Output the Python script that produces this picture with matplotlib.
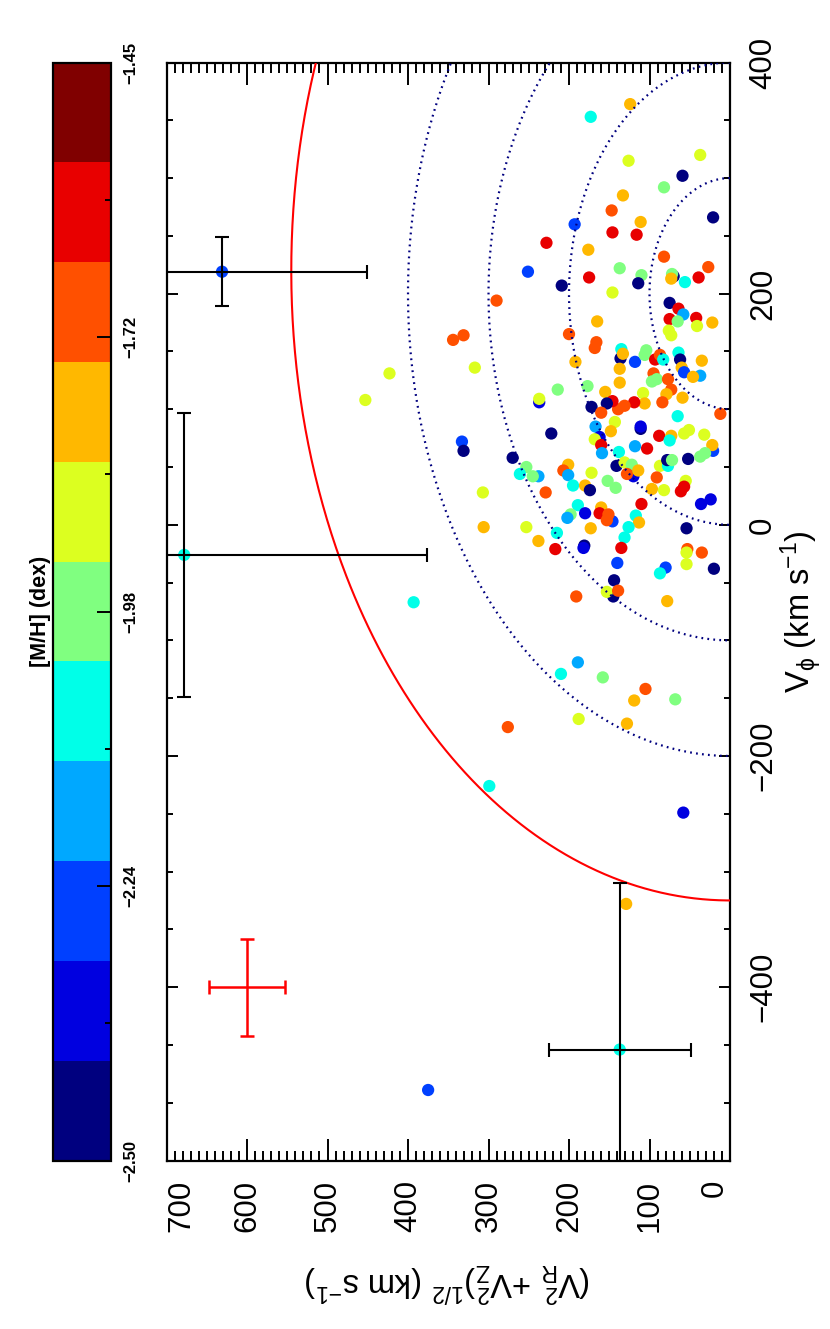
import numpy as np
import matplotlib
matplotlib.use("Agg")
import matplotlib.pyplot as plt
from matplotlib.colors import ListedColormap, BoundaryNorm
from matplotlib.ticker import MultipleLocator, FixedLocator

plt.rcParams['font.family'] = ['Liberation Sans', 'DejaVu Sans']
plt.rcParams['mathtext.fontset'] = 'custom'
plt.rcParams['mathtext.rm'] = 'Liberation Sans'
plt.rcParams['mathtext.it'] = 'Liberation Sans'
plt.rcParams['mathtext.bf'] = 'Liberation Sans:bold'

# [M/H] colour bins (11 discrete colours)
mh_edges = np.linspace(-2.50, -1.45, 12)
mh_colors = ['#00007f', '#0000e0', '#0040ff', '#00a8ff', '#00ffe8', '#80ff80',
             '#dcff20', '#ffb800', '#ff5000', '#e80000', '#800000']
cbar_ticks = [-2.50, -2.2375, -1.975, -1.7125, -1.45]
cbar_minor = [-2.36875, -2.10625, -1.84375, -1.58125]
cbar_ticklabels = ['\u22122.50', '\u22122.24', '\u22121.98', '\u22121.72', '\u22121.45']

# stars: V_phi, sqrt(V_R^2+V_Z^2), [M/H]
v_phi = [364, 353, 315, 320, 302, 292, 285, 272, 266, 262,
         260, 253, 251, 244, 238, 232, 223, 219, 222, 216,
         214, 215, 217, 213, 210, 214, 207, 209, 201, 194,
         192, 187, 182, 178, 176, 179, 172, 175, 176, 168,
         164, 165,
         158, 153, 152, 144, 148, 141, 151, 147, 143, 147,
         143, 149, 143, 136, 132, 129, 128, 142, 141, 135,
         123, 131, 124, 126, 126, 117, 113, 110, 106, 96,
         120, 117, 106, 109, 115, 114, 105, 106, 103, 100,
         107, 105, 102, 97, 89, 81, 85, 83, 85, 94,
         79, 77, 77, 73, 79, 82, 78, 64, 69, 76,
         74, 69, 62, 68, 66, 63, 58, 51, 54, 52,
         42, 44, 47, 51, 51, 56, 56, 57, 59, 62,
         50, 44, 42, 42, 52, 47, 43, 45, 38, 32,
         34, 34, 30, 41, 31, 30, 38, 33, 29, 28,
         28, 18, 17, 10, 9, 6, 15, 10, 3, 9,
         4, 8, 2, -2, -11, -3, -2, -2, -14, -7,
         -21, -18, -20, -20, -33, 18, 22, -3, -21, -24,
         -24, -34, -37, -42, -38, -48, -62, -58, -57, -62, -66,
         160, 164, 136, 131, 108, 72, 64, -67, -119, -129,
         -132, -142, -152, -151, -168, -172, -175, -226, -249, -328,
         -489]
v_perp = [124, 173, 126, 37, 59, 82, 133, 147, 21, 111,
          193, 146, 116, 228, 176, 82, 27, 251, 137, 110,
          175, 70, 72, 73, 56, 39, 209, 114, 146, 290,
          75, 64, 58, 75, 65, 42, 41, 22, 165, 76,
          73, 200,
          166, 168, 135, 136, 133, 118, 104, 106, 93, 87,
          83, 64, 62, 60, 57, 37, 46, 35, 192, 137,
          137, 95, 97, 91, 77, 73, 79, 59, 84, 12,
          177, 214, 237, 237, 155, 108, 106, 119, 131, 139,
          146, 153, 172, 160, 143, 148, 167, 111, 111, 65,
          222, 88, 73, 75, 57, 51, 32, 21, 22, 162,
          168, 160, 159, 118, 103, 138, 270, 141, 131, 122,
          120, 128, 114, 87, 77, 78, 72, 52, 37, 31,
          253, 261, 238, 245, 201, 207, 201, 172, 152, 142,
          195, 180, 174, 91, 97, 82, 55, 57, 61, 307,
          229, 110, 189, 180, 198, 202, 160, 162, 146, 151,
          153, 117, 113, 126, 131, 173, 253, 306, 238, 215,
          217, 181, 182, 135, 140, 36, 24, 54, 53, 54,
          35, 54, 80, 87, 20, 144, 145, 153, 139, 191, 78,
          344, 331, 317, 423, 453, 333, 331, 393, 189, 210,
          158, 105, 119, 68, 188, 128, 276, 299, 58, 129,
          375]
m_h = [-1.78, -2.07, -1.88, -1.88, -2.45, -1.97, -1.78, -1.69, -2.45, -1.78,
       -2.26, -1.59, -1.59, -1.59, -1.78, -1.69, -1.69, -2.26, -1.97, -1.97,
       -1.59, -2.45, -1.97, -1.78, -2.07, -1.59, -2.45, -2.45, -1.88, -1.69,
       -2.45, -1.59, -2.17, -1.59, -1.97, -1.59, -1.88, -1.78, -1.78, -1.88,
       -1.88, -1.69,
       -1.69, -1.69, -2.07, -2.45, -1.78, -2.26, -1.97, -1.97, -1.59, -1.69,
       -2.07, -2.07, -2.45, -1.78, -2.26, -2.17, -1.78, -1.78, -1.78, -1.78,
       -1.78, -1.69, -1.97, -1.97, -1.69, -1.69, -1.78, -1.78, -1.69, -1.69,
       -1.97, -1.97, -2.36, -1.88, -1.78, -1.88, -1.78, -1.59, -1.69, -1.69,
       -1.59, -2.45, -2.45, -1.69, -1.88, -1.78, -2.17, -2.45, -2.36, -2.07,
       -2.45, -1.59, -1.78, -2.07, -1.88, -1.88, -1.88, -2.26, -1.78, -2.36,
       -1.88, -1.59, -2.17, -2.17, -1.59, -2.07, -2.45, -2.45, -1.88, -1.97,
       -2.36, -1.69, -1.78, -1.88, -2.07, -2.45, -1.97, -2.45, -1.97, -1.97,
       -1.97, -2.07, -2.17, -1.97, -1.78, -1.69, -2.17, -1.88, -1.97, -1.97,
       -2.07, -1.78, -2.45, -1.69, -1.78, -1.88, -1.88, -1.59, -1.59, -1.88,
       -1.69, -1.59, -2.07, -2.36, -1.97, -2.17, -1.78, -1.59, -2.26, -1.69,
       -1.69, -2.07, -1.78, -2.07, -2.07, -1.78, -1.88, -1.78, -1.78, -2.07,
       -1.59, -2.45, -2.36, -1.59, -2.26, -2.36, -2.36, -2.45, -1.69, -1.88,
       -1.69, -1.88, -2.26, -2.07, -2.45, -2.45, -2.45, -1.88, -1.69, -1.69, -1.78,
       -1.69, -1.69, -1.88, -1.88, -1.88, -2.26, -2.45, -2.07, -2.17, -2.07,
       -1.97, -1.69, -1.78, -1.97, -1.88, -1.78, -1.69, -2.07, -2.36, -1.78,
       -2.26]

# stars with individual error bars
eb_phi = [219, -26, -454]
eb_perp = [631, 678, 137]
eb_mh = [-2.26, -2.07, -2.07]
eb_phi_err = [30, 123, 144]
eb_perp_err = [180, 302, 88]

# typical error (red cross)
typ_phi, typ_perp = -400, 600
typ_phi_err, typ_perp_err = 42, 47

# halo boundary and constant-velocity circles
halo_center, halo_radius = 220, 545
disc_center = 200
disc_radii = [100, 200, 300, 400]

cmap = ListedColormap(mh_colors)
norm = BoundaryNorm(mh_edges, cmap.N)

fig = plt.figure(figsize=(8.3, 13.29), dpi=100)
ax = fig.add_axes([166.5/830, 1 - 1160.5/1329, (730 - 166.5)/830, (1160.5 - 62.5)/1329])
cax = fig.add_axes([53/830, 1 - 1160.5/1329, 58/830, (1160.5 - 62.5)/1329])

sc = ax.scatter(v_perp, v_phi, c=m_h, cmap=cmap, norm=norm, s=78, linewidths=0, zorder=3)
ax.scatter(eb_perp, eb_phi, c=eb_mh, cmap=cmap, norm=norm, s=78, linewidths=0, zorder=3)

t = np.linspace(0, np.pi, 500)
ax.plot(halo_radius*np.sin(t), halo_center + halo_radius*np.cos(t), color='red', lw=1.5, zorder=4)
for r in disc_radii:
    ax.plot(r*np.sin(t), disc_center + r*np.cos(t), color='#00007f', lw=1.6,
            ls=(0, (0.8, 1.9)), zorder=4)

ax.errorbar(eb_perp, eb_phi, xerr=eb_perp_err, yerr=eb_phi_err, fmt='none', ecolor='black',
            elinewidth=1.5, capsize=4.7, capthick=1.5, zorder=5)
ax.errorbar([typ_perp], [typ_phi], xerr=[typ_perp_err], yerr=[typ_phi_err], fmt='none',
            ecolor='red', elinewidth=1.8, capsize=4.7, capthick=1.8, zorder=5)

ax.set_xlim(700, 0)
ax.set_ylim(-550, 400)
ax.xaxis.set_major_locator(MultipleLocator(100))
ax.xaxis.set_minor_locator(MultipleLocator(10))
ax.yaxis.set_major_locator(MultipleLocator(200))
ax.yaxis.set_minor_locator(MultipleLocator(50))
for s in ax.spines.values():
    s.set_linewidth(1.6)
ax.tick_params(which='both', direction='in', top=True, bottom=True, left=True, right=True,
               labelleft=False, labelright=True, labeltop=False, labelbottom=True, width=1.4)
ax.tick_params(axis='x', which='major', length=15.6, pad=14, labelsize=22.5, labelrotation=90)
ax.tick_params(axis='x', which='minor', length=7.5)
ax.tick_params(axis='y', which='major', length=7.9, pad=13, labelsize=22.5, labelrotation=90)
ax.tick_params(axis='y', which='minor', length=4)

ax.set_xlabel(r'(V$^2_R$ +V$^2_Z$)$^{1/2}$ (km s$^{-1}$)', fontsize=23.5, rotation=180,
              va='center', ha='center')
ax.xaxis.set_label_coords(0.5, -0.1107)
ax.yaxis.set_label_position('right')
ax.set_ylabel(r'V$_{\phi}$ (km s$^{-1}$)', fontsize=23.5, rotation=90, va='center', ha='center')
ax.yaxis.set_label_coords(1.126, 0.5)

cb = fig.colorbar(sc, cax=cax, orientation='vertical', ticks=cbar_ticks)
cb.set_ticklabels(cbar_ticklabels)
cb.outline.set_linewidth(1.6)
cax.yaxis.set_minor_locator(FixedLocator(cbar_minor))
cax.yaxis.set_ticks_position('right')
cax.tick_params(which='both', direction='in', right=True, left=False, width=1.4,
                labelsize=12, labelrotation=90, pad=8.6)
cax.tick_params(which='major', length=10)
cax.tick_params(which='minor', length=4)
cax.yaxis.set_label_position('left')
cax.set_ylabel('[M/H] (dex)', fontsize=15.5, fontweight='bold', rotation=90, va='center', ha='center')
cax.yaxis.set_label_coords(-0.224, 0.5)

fig.canvas.draw()
for lbl in ax.get_xticklabels():
    lbl.set_va('top')
    if lbl.get_text() == '700':
        lbl.set_ha('left')
    elif lbl.get_text() == '0':
        lbl.set_ha('right')
    else:
        lbl.set_ha('center')
for lbl in ax.get_yticklabels():
    lbl.set_va('center')
    lbl.set_ha('left')
for lbl in cax.get_yticklabels():
    lbl.set_va('center')
    lbl.set_ha('left')
    lbl.set_fontweight('bold')

fig.savefig('out.png', dpi=100)
